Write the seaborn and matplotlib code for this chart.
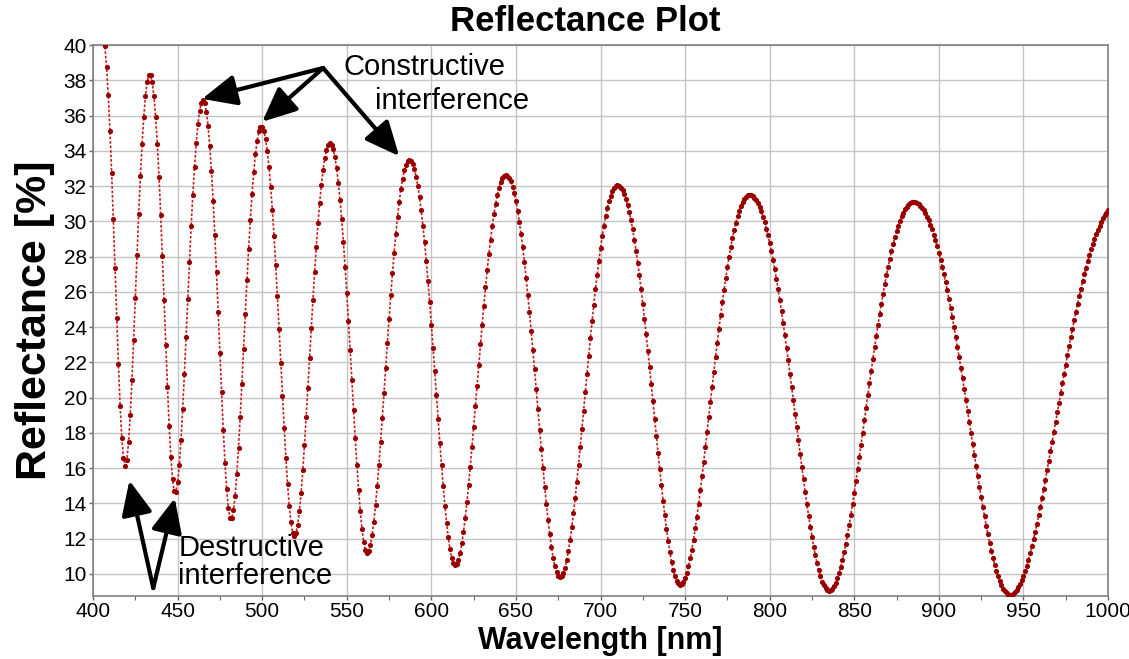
import numpy as np
import pandas as pd
import seaborn as sns
import matplotlib.pyplot as plt

plt.switch_backend('Agg')

# reflectance [%], one value per nm starting at 405 nm,
# split into half fringes (peak -> trough -> peak ...)
start_nm = 405
refl_405_419 = [40.90, 40.66, 39.94, 38.76, 37.15, 35.13, 32.77, 30.14, 27.35, 24.54, 21.89, 19.55, 17.73, 16.56, 16.15]
refl_420_433 = [16.49, 17.47, 19.01, 20.99, 23.26, 25.67, 28.10, 30.43, 32.55, 34.40, 35.93, 37.10, 37.90, 38.30]
refl_434_448 = [38.29, 37.90, 37.10, 35.93, 34.39, 32.53, 30.38, 28.02, 25.53, 23.01, 20.60, 18.42, 16.64, 15.36, 14.69]
refl_449_465 = [14.67, 15.19, 16.19, 17.61, 19.36, 21.34, 23.46, 25.61, 27.72, 29.71, 31.52, 33.11, 34.45, 35.51, 36.28,
                36.74, 36.90]
refl_466_481 = [36.73, 36.23, 35.42, 34.29, 32.86, 31.16, 29.23, 27.10, 24.86, 22.56, 20.30, 18.18, 16.31, 14.80, 13.73,
                13.18]
refl_482_499 = [13.16, 13.60, 14.45, 15.66, 17.17, 18.91, 20.80, 22.77, 24.74, 26.65, 28.45, 30.09, 31.55, 32.80, 33.81,
                34.58, 35.10, 35.36]
refl_500_519 = [35.37, 35.13, 34.67, 33.99, 33.08, 31.97, 30.66, 29.16, 27.52, 25.75, 23.89, 21.99, 20.10, 18.28, 16.59,
                15.10, 13.85, 12.93, 12.35, 12.15]
refl_520_540 = [12.32, 12.80, 13.57, 14.61, 15.87, 17.32, 18.89, 20.55, 22.24, 23.93, 25.56, 27.12, 28.57, 29.90, 31.07,
                32.08, 32.92, 33.59, 34.06, 34.35, 34.45]
refl_541_562 = [34.36, 34.08, 33.63, 33.00, 32.20, 31.23, 30.11, 28.84, 27.44, 25.94, 24.34, 22.68, 21.00, 19.32, 17.70,
                16.16, 14.76, 13.55, 12.55, 11.81, 11.36, 11.20]
refl_563_587 = [11.32, 11.66, 12.21, 12.96, 13.89, 14.98, 16.19, 17.49, 18.86, 20.28, 21.70, 23.11, 24.49, 25.81, 27.06,
                28.22, 29.29, 30.25, 31.10, 31.83, 32.42, 32.89, 33.22, 33.43, 33.50]
refl_588_614 = [33.44, 33.26, 32.96, 32.54, 32.01, 31.37, 30.62, 29.76, 28.81, 27.75, 26.62, 25.42, 24.15, 22.84, 21.49,
                20.13, 18.78, 17.45, 16.18, 14.98, 13.88, 12.91, 12.07, 11.39, 10.91, 10.61, 10.50]
refl_615_644 = [10.59, 10.81, 11.21, 11.73, 12.40, 13.17, 14.07, 15.04, 16.09, 17.20, 18.35, 19.51, 20.69, 21.87, 23.02,
                24.14, 25.22, 26.25, 27.22, 28.13, 28.96, 29.72, 30.39, 30.99, 31.49, 31.91, 32.23, 32.46, 32.60, 32.65]
refl_645_676 = [32.60, 32.48, 32.27, 31.97, 31.60, 31.13, 30.60, 29.98, 29.29, 28.53, 27.70, 26.81, 25.85, 24.85, 23.80,
                22.71, 21.60, 20.47, 19.33, 18.19, 17.08, 15.99, 14.95, 13.97, 13.06, 12.25, 11.52, 10.93, 10.44, 10.09,
                9.88, 9.80]
refl_677_710 = [9.87, 10.05, 10.35, 10.77, 11.30, 11.92, 12.64, 13.44, 14.30, 15.23, 16.20, 17.20, 18.23, 19.27, 20.32,
                21.35, 22.37, 23.37, 24.34, 25.26, 26.15, 26.98, 27.76, 28.48, 29.15, 29.74, 30.28, 30.74, 31.14, 31.46,
                31.72, 31.90, 32.01, 32.05]
refl_711_747 = [32.02, 31.92, 31.76, 31.55, 31.27, 30.92, 30.52, 30.06, 29.55, 28.97, 28.34, 27.66, 26.93, 26.16, 25.34,
                24.48, 23.59, 22.67, 21.73, 20.76, 19.79, 18.81, 17.84, 16.88, 15.94, 15.03, 14.16, 13.33, 12.57, 11.87,
                11.24, 10.69, 10.24, 9.88, 9.62, 9.46, 9.40]
refl_748_788 = [9.45, 9.57, 9.78, 10.07, 10.44, 10.88, 11.38, 11.95, 12.58, 13.25, 13.98, 14.74, 15.54, 16.36, 17.20,
                18.05, 18.91, 19.77, 20.63, 21.47, 22.31, 23.12, 23.91, 24.67, 25.40, 26.11, 26.77, 27.40, 27.99, 28.54,
                29.05, 29.50, 29.92, 30.28, 30.60, 30.87, 31.10, 31.27, 31.40, 31.47, 31.50]
refl_789_835 = [31.48, 31.42, 31.32, 31.19, 31.02, 30.80, 30.56, 30.27, 29.95, 29.59, 29.20, 28.77, 28.31, 27.81, 27.28,
                26.73, 26.14, 25.53, 24.89, 24.22, 23.53, 22.83, 22.11, 21.37, 20.62, 19.86, 19.10, 18.34, 17.58, 16.83,
                16.08, 15.36, 14.65, 13.96, 13.31, 12.68, 12.10, 11.55, 11.05, 10.60, 10.20, 9.86, 9.57, 9.35, 9.18,
                9.08, 9.05]
refl_836_885 = [9.08, 9.17, 9.31, 9.51, 9.75, 10.05, 10.40, 10.80, 11.23, 11.71, 12.23, 12.79, 13.37, 13.98, 14.62,
                15.27, 15.94, 16.63, 17.32, 18.02, 18.73, 19.43, 20.13, 20.83, 21.51, 22.19, 22.85, 23.49, 24.12, 24.73,
                25.32, 25.88, 26.42, 26.94, 27.43, 27.89, 28.32, 28.72, 29.10, 29.44, 29.75, 30.03, 30.28, 30.50, 30.68,
                30.83, 30.95, 31.03, 31.08, 31.10]
refl_886_942 = [31.08, 31.04, 30.98, 30.89, 30.77, 30.63, 30.46, 30.27, 30.05, 29.81, 29.54, 29.24, 28.93, 28.59, 28.22,
                27.83, 27.43, 27.00, 26.55, 26.08, 25.58, 25.08, 24.55, 24.01, 23.45, 22.88, 22.30, 21.71, 21.10, 20.49,
                19.87, 19.25, 18.62, 18.00, 17.38, 16.76, 16.15, 15.54, 14.95, 14.37, 13.81, 13.26, 12.74, 12.24, 11.77,
                11.32, 10.90, 10.52, 10.17, 9.86, 9.59, 9.35, 9.15, 9.01, 8.90, 8.82, 8.80]
refl_943_1000 = [8.82, 8.88, 8.96, 9.08, 9.24, 9.42, 9.64, 9.89, 10.17, 10.48, 10.82, 11.18, 11.56, 11.97, 12.40,
                 12.85, 13.32, 13.80, 14.30, 14.81, 15.34, 15.87, 16.41, 16.95, 17.50, 18.06, 18.61, 19.16, 19.72, 20.26,
                 20.81, 21.35, 21.88, 22.40, 22.92, 23.42, 23.92, 24.40, 24.87, 25.32, 25.76, 26.19, 26.60, 27.00, 27.37,
                 27.74, 28.08, 28.41, 28.72, 29.01, 29.28, 29.53, 29.76, 29.98, 30.17, 30.34, 30.50, 30.63]

segments = [refl_405_419, refl_420_433, refl_434_448, refl_449_465, refl_466_481, refl_482_499,
            refl_500_519, refl_520_540, refl_541_562, refl_563_587, refl_588_614, refl_615_644,
            refl_645_676, refl_677_710, refl_711_747, refl_748_788, refl_789_835, refl_836_885,
            refl_886_942, refl_943_1000]

x_ticks = [400, 450, 500, 550, 600, 650, 700, 750, 800, 850, 900, 950, 1000]
y_ticks = [10, 12, 14, 16, 18, 20, 22, 24, 26, 28, 30, 32, 34, 36, 38, 40]

# annotation anchors (nm, %)
constructive_tail = (536, 38.7)
constructive_tips = [(464.5, 36.95), (500, 35.65), (581, 33.7)]
destructive_tail = (435.6, 9.2)
destructive_tips = [(421.5, 15.3), (448.3, 14.3)]

reflectance = np.concatenate(segments)
wavelength = start_nm + np.arange(len(reflectance))
df = pd.DataFrame({"wavelength": wavelength, "reflectance": reflectance})

sns.set_theme(style="whitegrid")
plt.rcParams['font.family'] = ['Liberation Sans', 'DejaVu Sans']
plt.rcParams['text.color'] = 'black'
plt.rcParams['axes.labelcolor'] = 'black'
plt.rcParams['xtick.color'] = 'black'
plt.rcParams['ytick.color'] = 'black'

fig = plt.figure(figsize=(11.29, 6.59), dpi=100)
ax = fig.add_axes([0.0824, 0.0956, 0.899, 0.836])

sns.lineplot(data=df, x="wavelength", y="reflectance", ax=ax, color="#c81e1e",
             linestyle=(0, (1.6, 1.1)), linewidth=1.2, zorder=3)
sns.scatterplot(data=df, x="wavelength", y="reflectance", ax=ax, color="#980000",
                s=14, linewidth=0, zorder=4)

ax.set_xlim(400, 1000)
ax.set_ylim(8.75, 40)
ax.set_xticks(x_ticks)
ax.set_yticks(y_ticks)
ax.set_xticks(np.array(x_ticks[:-1]) + 25, minor=True)
ax.tick_params(axis='both', which='major', labelsize=15, length=3, width=1,
               color='#666666', direction='out', bottom=True, left=True, pad=1.5)
ax.tick_params(axis='x', which='minor', length=3, width=0.8, color='#666666', bottom=True)
ax.grid(True, which='major', color='#c4c4c4', linewidth=1.0)
ax.grid(False, which='minor')
for sp in ax.spines.values():
    sp.set_color('#808080')
    sp.set_linewidth(1.2)

ax.set_title("Reflectance Plot", fontsize=25, fontweight='bold', x=0.485, pad=10, color='black')
ax.set_xlabel("Wavelength [nm]", fontsize=22, fontweight='bold')
ax.set_ylabel("Reflectance [%]", fontsize=31, fontweight='bold')
ax.xaxis.set_label_coords(0.5, -0.054)
ax.yaxis.set_label_coords(-0.037, 0.5)

arrow_kw = dict(arrowstyle="-|>,head_length=1.0,head_width=0.45", color="black",
                lw=3, mutation_scale=21, shrinkA=0, shrinkB=0)
for tip in constructive_tips:
    ax.annotate("", xy=tip, xytext=constructive_tail, arrowprops=arrow_kw, zorder=5)
for tip in destructive_tips:
    ax.annotate("", xy=tip, xytext=destructive_tail, arrowprops=arrow_kw, zorder=5)

ax.text(547.8, 38.3, "Constructive", fontsize=21, va="baseline", ha="left", zorder=6)
ax.text(566.7, 36.4, "interference", fontsize=21, va="baseline", ha="left", zorder=6)
ax.text(450.4, 11.04, "Destructive", fontsize=21, va="baseline", ha="left", zorder=6)
ax.text(450.4, 9.44, "interference", fontsize=21, va="baseline", ha="left", zorder=6)

fig.savefig("out.png", dpi=100, facecolor="white")
